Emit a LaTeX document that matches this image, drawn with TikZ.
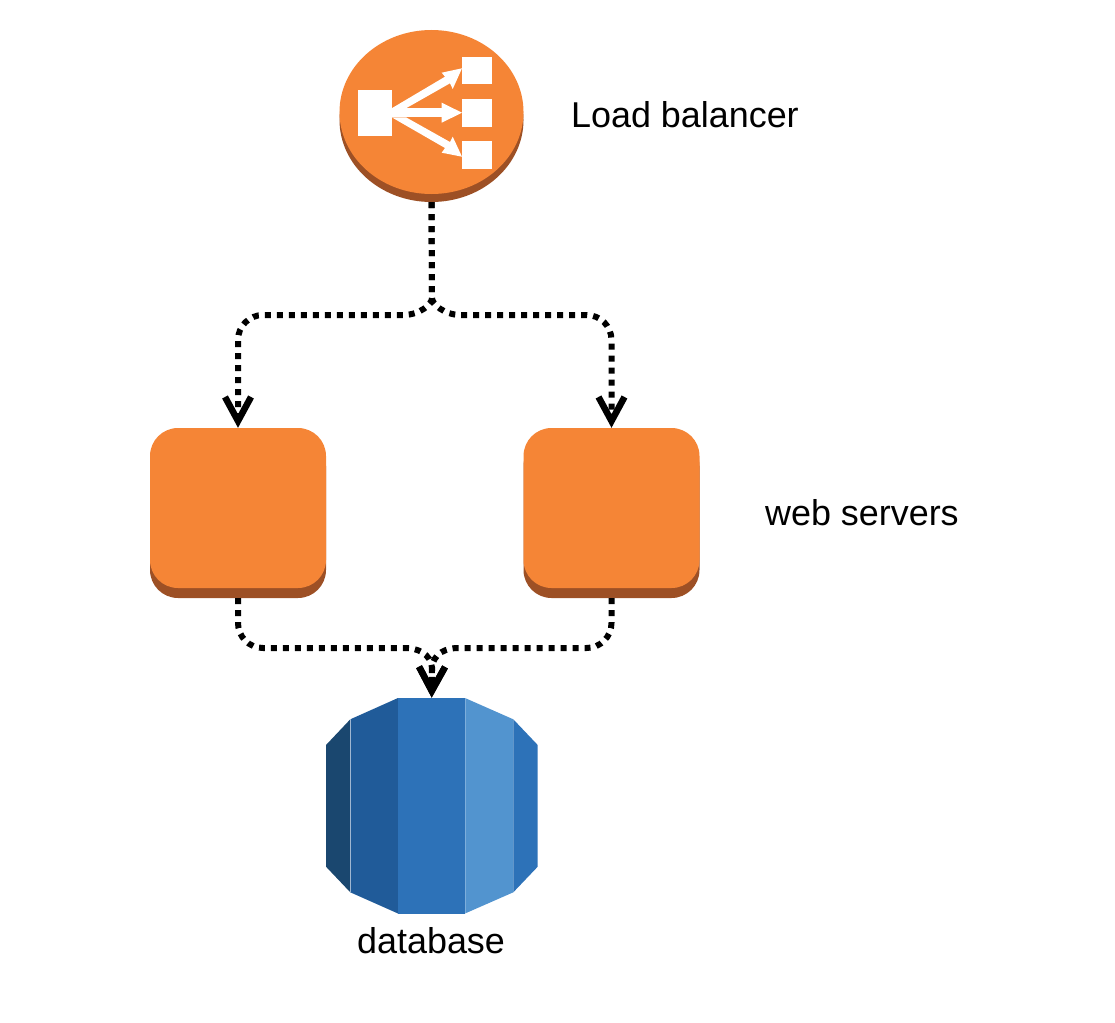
\documentclass[tikz,border=0pt]{standalone}
\usepackage{fontspec}
\setmainfont{Liberation Sans}
\usetikzlibrary{shapes.geometric,arrows.meta}
\definecolor{awsorange}{HTML}{F58536}
\definecolor{awsshade}{HTML}{9D5025}
\definecolor{dbA}{HTML}{1A476F}
\definecolor{dbB}{HTML}{205B99}
\definecolor{dbC}{HTML}{2D72B8}
\definecolor{dbD}{HTML}{5294CF}
\tikzset{
  disc/.style={ellipse,inner sep=0pt,minimum width=184pt,minimum height=164pt},
  srv/.style={rectangle,inner sep=0pt,minimum width=176pt,minimum height=160pt,rounded corners=28pt},
  iconbox/.style={rectangle,fill=white,inner sep=0pt},
  conn/.style={line width=6pt,dash pattern=on 6pt off 6pt,line join=round,
    -{Straight Barb[length=24pt,width=26pt,line width=6.5pt]}},
  lbl/.style={inner sep=0pt,font=\fontsize{35.9}{40}\selectfont,text=black}
}
\begin{document}
\begin{tikzpicture}[x=1pt,y=-1pt]
\useasboundingbox (0,0) rectangle (1115,1022);
% load balancer
\node[disc,fill=awsshade] (lbs) at (431.5,120) {};
\node[disc,fill=awsorange] (lb) at (431.5,112) {};
\node[iconbox,minimum width=34pt,minimum height=46pt] (lbsrc) at (375,113) {};
\node[iconbox,minimum width=30pt,minimum height=27pt] (lbt1) at (477,70.5) {};
\node[iconbox,minimum width=30pt,minimum height=28pt] (lbt2) at (477,113) {};
\node[iconbox,minimum width=30pt,minimum height=28pt] (lbt3) at (477,155) {};
\fill[white] (391.7,108.3) -- (445,76.7) -- (441.7,72.7) -- (462,68.3) -- (452.7,89) -- (450,83.3) -- (406,108.3) -- cycle;
\fill[white] (391.7,108.3) rectangle (441.7,117.3);
\fill[white] (441.7,102.7) -- (462,112.7) -- (441.7,122.7) -- cycle;
\fill[white] (391.7,117.3) -- (445,148) -- (441.7,152.7) -- (462,156.7) -- (452.7,136.7) -- (450,142) -- (406,117.3) -- cycle;
% web servers
\node[srv,fill=awsshade] (ws1s) at (238,518) {};
\node[srv,fill=awsorange] (ws1) at (238,508) {};
\node[srv,fill=awsshade] (ws2s) at (611.5,518) {};
\node[srv,fill=awsorange] (ws2) at (611.5,508) {};
% database
\node[rectangle,inner sep=0pt,minimum width=212pt,minimum height=215.5pt] (db) at (431.7,805.6) {};
\fill[dbA] (326,745) -- (350.3,719.3) -- (350.3,892.3) -- (326,866.7) -- cycle;
\fill[dbB] (350.3,719.3) -- (398,698) -- (398,913.5) -- (350.3,892.3) -- cycle;
\fill[dbC] (398,698) rectangle (465,913.5);
\fill[dbD] (465,698) -- (513.3,719.3) -- (513.3,892.3) -- (465,913.5) -- cycle;
\fill[dbC] (513.3,719.3) -- (537.7,745) -- (537.7,866.7) -- (513.3,892.3) -- cycle;
\draw[white,opacity=.45,line width=.8pt] (350.3,719.3) -- (350.3,892.3);
\draw[white,opacity=.25,line width=.8pt] (465,698) -- (465,913.5);
% connectors
\draw[conn] (lbs.south) -- (432,298) .. controls (432,304) and (420,315) .. (403,315) -- (263,315) .. controls (249.2,315) and (238,326.2) .. (238,340) -- (ws1.north);
\draw[conn] (lbs.south) -- (432,298) .. controls (432,304) and (444,315) .. (461,315) -- (586.5,315) .. controls (600.3,315) and (611.5,326.2) .. (611.5,340) -- (ws2.north);
\draw[conn] (ws1s.south) -- (238,623) .. controls (238,636.8) and (249.2,648) .. (263,648) -- (405,648) .. controls (415,648) and (432,652) .. (432,670) -- (db.north);
\draw[conn] (ws2s.south) -- (611.5,623) .. controls (611.5,636.8) and (600.3,648) .. (586.5,648) -- (458,648) .. controls (448,648) and (432,652) .. (432,670) -- (db.north);
% labels
\node[lbl,anchor=base west] (lblb) at (571,128) {Load balancer};
\node[lbl,anchor=base west] (lbws) at (765,525) {web servers};
\node[lbl,anchor=base west] (lbdb) at (357,953) {database};
\end{tikzpicture}
\end{document}
